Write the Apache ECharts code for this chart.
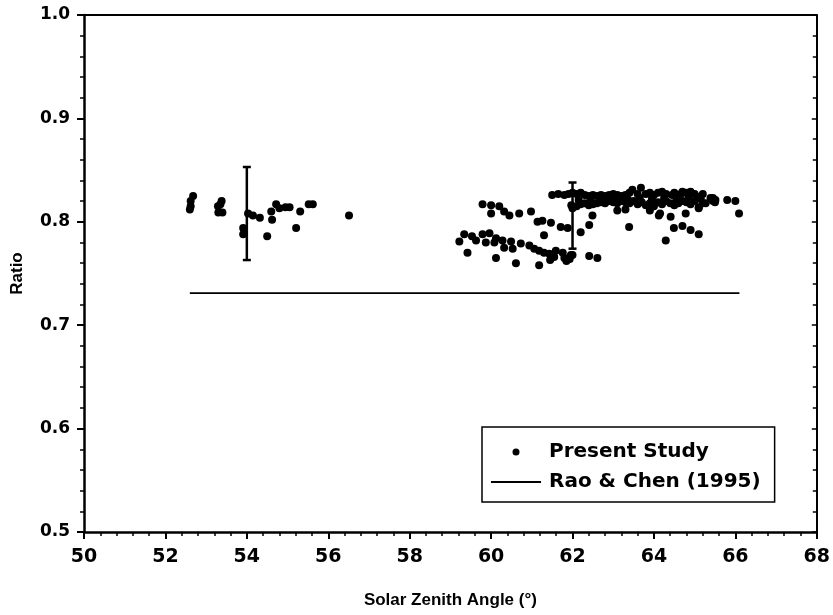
<!DOCTYPE html>
<html>
<head>
<meta charset="utf-8">
<script src="https://cdn.jsdelivr.net/npm/echarts@6/dist/echarts.min.js"></script>
<style>
html,body{margin:0;padding:0;background:#fff;}
#chart{width:833px;height:615px;}
</style>
</head>
<body>
<div id="chart"></div>
<script>
// ---- data ----
const xTicks = [50, 52, 54, 56, 58, 60, 62, 64, 66, 68];
const yTicks = [0.5, 0.6, 0.7, 0.8, 0.9, 1.0];

const presentLeft = [
  [52.68,0.825],[52.62,0.820],[52.60,0.812],[52.62,0.815],
  [53.38,0.820],[53.29,0.815],[53.30,0.809],[53.40,0.809],[53.35,0.817],
  [54.03,0.808],[54.15,0.806],[54.32,0.804],[53.91,0.794],[53.91,0.788],[54.50,0.786],
  [54.60,0.810],[54.62,0.802],[54.72,0.817],[54.80,0.813],[54.95,0.814],[55.05,0.814],
  [55.31,0.810],[55.21,0.794],[55.52,0.817],[55.62,0.817],[56.51,0.806]
];
const presentMid = [
  [59.79,0.817],[60.00,0.816],[60.20,0.815],[60.00,0.808],[60.32,0.810],[60.45,0.806],
  [60.69,0.808],[60.98,0.810],[61.14,0.800],[61.26,0.801],[61.47,0.799],[61.71,0.795],
  [61.88,0.794],[61.30,0.787],[61.97,0.816],
  [59.22,0.781],[59.34,0.788],[59.53,0.786],[59.63,0.782],[59.79,0.788],[59.87,0.780],
  [59.96,0.789],[60.08,0.780],[60.12,0.784],[60.28,0.782],[60.32,0.775],[60.49,0.781],
  [60.53,0.774],[60.73,0.779],[60.94,0.777],[61.06,0.774],[61.18,0.772],[61.30,0.770],
  [61.43,0.769],[61.59,0.772],[61.76,0.770],[61.96,0.768],[61.55,0.766],[61.80,0.765],
  [61.93,0.764],
  [59.42,0.770],[60.12,0.765],[60.61,0.760],[61.18,0.758],[61.45,0.763],[61.85,0.762]
];
const presentUpper = [
  [61.50,0.826],[61.65,0.827],
  [61.80,0.826],[61.90,0.827],[62.00,0.828],[62.10,0.827],[62.20,0.828],[62.30,0.826],
  [62.40,0.825],[62.50,0.826],[62.60,0.825],[62.70,0.826],[62.80,0.825],[62.90,0.826],
  [63.00,0.827],[63.10,0.826],[63.20,0.825],[63.30,0.826],[63.40,0.828],[63.47,0.831],
  [63.68,0.833],[63.60,0.827],[63.80,0.827],[63.90,0.828],[64.00,0.826],[64.10,0.828],
  [64.20,0.829],[64.30,0.827],[64.45,0.826],[64.50,0.828],[64.66,0.827],[64.70,0.829],
  [64.80,0.828],[64.90,0.829],[65.00,0.827],[65.10,0.824],[65.20,0.827],[65.39,0.823],
  [65.45,0.823],[65.51,0.821],[65.80,0.821],[66.00,0.820],
  [62.00,0.813],[62.10,0.815],[62.20,0.817],[62.30,0.818],[62.40,0.816],[62.50,0.817],
  [62.60,0.818],[62.70,0.819],[62.80,0.818],[62.90,0.820],[63.00,0.819],[63.10,0.818],
  [63.20,0.820],[63.30,0.819],[63.40,0.818],[63.50,0.820],[63.60,0.817],[63.70,0.819],
  [63.80,0.816],[63.90,0.818],[64.00,0.815],[64.10,0.819],[64.20,0.817],[64.30,0.820],
  [64.40,0.818],[64.50,0.816],[64.60,0.818],[64.70,0.820],[64.80,0.819],[64.90,0.817],
  [65.00,0.820],[65.10,0.814],[65.20,0.818],[65.27,0.818],[65.50,0.819],
  [62.15,0.821],[62.45,0.822],[62.75,0.822],[63.05,0.823],[63.35,0.822],[63.65,0.823],
  [63.95,0.822],[64.25,0.823],[64.55,0.822],[64.85,0.824],[65.15,0.822],[65.45,0.820],
  [62.49,0.806],[63.10,0.811],[63.30,0.812],[63.90,0.811],[64.15,0.808],[64.41,0.805],
  [64.78,0.808],[65.10,0.813],[66.09,0.808],[64.12,0.806],
  [62.20,0.790],[62.41,0.797],[63.39,0.795],[64.29,0.782],[64.49,0.794],[64.70,0.796],
  [64.90,0.792],[65.10,0.788],
  [62.00,0.768],[62.41,0.767],[62.61,0.765]
];

const raoChenX = [52.6, 66.1];
const raoChenY = [0.731, 0.731];

const errorX = [54, 62];
const errorLow = [0.763, 0.774];
const errorHigh = [0.853, 0.838];

// ---- chart ----
const chart = echarts.init(document.getElementById('chart'), null, {renderer: 'canvas'});
const tickFont = {fontFamily: 'DejaVu Sans', fontWeight: 'bold', color: '#000'};
const nameFont = {fontFamily: 'Liberation Sans', fontWeight: 'bold', fontSize: 17, color: '#000'};

const option = {
  backgroundColor: '#fff',
  animation: false,
  grid: {left: 84, right: 15, top: 15, bottom: 83, containLabel: false},
  legend: {
    orient: 'vertical', left: 482, top: 427,
    padding: [15, 14, 10, 8],
    itemWidth: 50, itemHeight: 7, itemGap: 10,
    borderColor: '#000', borderWidth: 1.5,
    backgroundColor: '#fff',
    textStyle: Object.assign({fontSize: 20, padding: [0, 0, 0, 3]}, tickFont),
    data: [
      {name: 'Present Study', icon: 'circle', itemStyle: {color: '#000', opacity: 1}},
      {name: 'Rao & Chen (1995)', itemStyle: {color: 'rgba(0,0,0,0)', borderWidth: 0, opacity: 0}}
    ]
  },
  xAxis: [{
    type: 'value', min: xTicks[0], max: xTicks[xTicks.length - 1], interval: 2,
    name: 'Solar Zenith Angle (°)', nameLocation: 'middle', nameGap: 60,
    nameTextStyle: nameFont,
    axisLine: {lineStyle: {color: '#000', width: 2.5}},
    axisTick: {length: 7, lineStyle: {color: '#000', width: 2}},
    minorTick: {show: true, splitNumber: 5, length: 4, lineStyle: {color: '#000', width: 1.5}},
    axisLabel: Object.assign({fontSize: 19, margin: 16}, tickFont),
    splitLine: {show: false}
  }, {
    type: 'value', position: 'top', min: 50, max: 68,
    axisLine: {show: true, onZero: false, lineStyle: {color: '#000', width: 2}},
    axisTick: {show: false}, axisLabel: {show: false}, splitLine: {show: false}
  }],
  yAxis: [{
    type: 'value', min: yTicks[0], max: yTicks[yTicks.length - 1], interval: 0.1,
    name: 'Ratio', nameLocation: 'middle', nameGap: 58, nameRotate: 90,
    nameTextStyle: nameFont,
    axisLine: {show: true, lineStyle: {color: '#000', width: 2.5}},
    axisTick: {show: true, length: 7, lineStyle: {color: '#000', width: 2}},
    minorTick: {show: true, splitNumber: 5, length: 4, lineStyle: {color: '#000', width: 1.5}},
    axisLabel: Object.assign({fontSize: 17, margin: 14, formatter: v => v.toFixed(1)}, tickFont),
    splitLine: {show: false}
  }, {
    type: 'value', position: 'right', min: 0.5, max: 1.0, interval: 0.1,
    axisLine: {show: true, onZero: false, lineStyle: {color: '#000', width: 2}},
    axisTick: {show: true, inside: true, length: 5, lineStyle: {color: '#000', width: 1.5}},
    minorTick: {show: true, splitNumber: 5, length: 4, lineStyle: {color: '#000', width: 1.5}},
    axisLabel: {show: false}, splitLine: {show: false}
  }],
  series: [
    {
      name: 'Present Study', type: 'scatter', symbol: 'circle', symbolSize: 8,
      itemStyle: {color: '#000', opacity: 1},
      data: presentLeft.concat(presentMid, presentUpper)
    },
    {
      name: 'Rao & Chen (1995)', type: 'line', symbol: 'none',
      lineStyle: {color: '#000', width: 1.8},
      itemStyle: {color: '#000'},
      data: raoChenX.map((x, i) => [x, raoChenY[i]])
    },
    {
      name: 'errorbars', type: 'custom',
      data: errorX.map((x, i) => [x, errorLow[i], errorHigh[i]]),
      encode: {x: 0, y: [1, 2]},
      renderItem: function (params, api) {
        const lo = api.coord([api.value(0), api.value(1)]);
        const hi = api.coord([api.value(0), api.value(2)]);
        const hw = 4;
        const style = {stroke: '#000', lineWidth: 2.5};
        return {
          type: 'group',
          children: [
            {type: 'line', shape: {x1: lo[0], y1: lo[1], x2: hi[0], y2: hi[1]}, style: style},
            {type: 'line', shape: {x1: lo[0] - hw, y1: lo[1], x2: lo[0] + hw, y2: lo[1]}, style: style},
            {type: 'line', shape: {x1: hi[0] - hw, y1: hi[1], x2: hi[0] + hw, y2: hi[1]}, style: style}
          ]
        };
      },
      z: 3
    }
  ]
};
chart.setOption(option);
</script>
</body>
</html>
